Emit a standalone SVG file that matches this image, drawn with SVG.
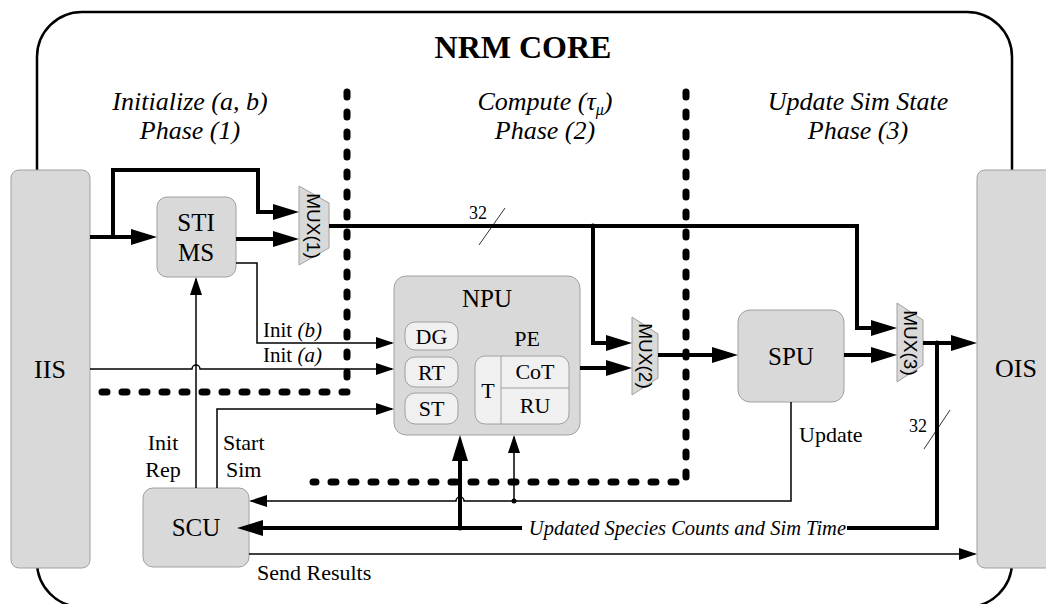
<svg xmlns="http://www.w3.org/2000/svg" width="1046" height="604" viewBox="0 0 1046 604">
<style>
.node{fill:#d9d9d9;stroke:#a0a0a0;stroke-width:1}
.inner{fill:#f0f0f0;stroke:#a0a0a0;stroke-width:1}
.t{font-family:"Liberation Serif","Times New Roman",serif;fill:#000}
.lbl{font-size:25px;text-anchor:middle}
.small{font-size:22px}
.it{font-style:italic}
.mux{fill:#d9d9d9;stroke:#a0a0a0;stroke-width:1}
.muxt{font-family:"Liberation Sans",Arial,sans-serif;font-size:19px;text-anchor:middle;dominant-baseline:central}
.thick{fill:none;stroke:#000;stroke-width:4}
.thin{fill:none;stroke:#000;stroke-width:1.5}
.dash{fill:none;stroke:#000;stroke-width:7;stroke-linecap:round;stroke-dasharray:5 15}
</style>
<defs>
<marker id="ah" markerUnits="userSpaceOnUse" markerWidth="26" markerHeight="16" refX="20" refY="8" orient="auto">
<path d="M0,0 L26,8 L0,16 z" fill="#000"/>
</marker>
<marker id="as" markerUnits="userSpaceOnUse" markerWidth="18" markerHeight="12" refX="16" refY="6" orient="auto">
<path d="M0,0 L18,6 L0,12 z" fill="#000"/>
</marker>
</defs>
<rect x="37" y="12" width="975" height="595" rx="45" fill="none" stroke="#000" stroke-width="2.5"/>
<text class="t" x="523" y="58" font-size="32" font-weight="bold" text-anchor="middle">NRM CORE</text>
<g id="phase-labels" class="t it" font-size="26" text-anchor="middle">
<text x="190" y="110">Initialize (a, b)</text>
<text x="190" y="139">Phase (1)</text>
<text x="545" y="110">Compute (τ<tspan font-size="16" dy="5">μ</tspan><tspan dy="-5">)</tspan></text>
<text x="545" y="139">Phase (2)</text>
<text x="858" y="110">Update Sim State</text>
<text x="858" y="139">Phase (3)</text>
</g>
<g id="phase-dividers">
<path class="dash" d="M347,92 V392 H95"/>
<path class="dash" d="M686,92 V482 H313"/>
</g>
<g id="IIS"><rect class="node" x="11" y="170" width="79" height="398" rx="8"/><text class="t" x="50" y="378" font-size="26" text-anchor="middle">IIS</text></g>
<g id="OIS"><rect class="node" x="977" y="170" width="79" height="398" rx="8"/><text class="t" x="1016" y="377" font-size="26" text-anchor="middle">OIS</text></g>
<g id="STIMS"><rect class="node" x="157" y="197" width="79" height="80" rx="10"/><text class="t lbl" x="196" y="231">STI</text><text class="t lbl" x="196" y="261">MS</text></g>
<g id="SCU"><rect class="node" x="143" y="488" width="106" height="79" rx="10"/><text class="t lbl" x="196" y="536">SCU</text></g>
<g id="SPU"><rect class="node" x="738" y="310" width="106" height="92" rx="12"/><text class="t lbl" x="791" y="365">SPU</text></g>
<g id="NPU">
<rect class="node" x="394" y="276" width="186" height="159" rx="12"/>
<text class="t lbl" x="487" y="307">NPU</text>
<rect class="inner" x="405" y="322" width="53" height="28" rx="10"/><text class="t small" x="431.5" y="344" text-anchor="middle">DG</text>
<rect class="inner" x="405" y="357" width="53" height="30" rx="10"/><text class="t small" x="431.5" y="380" text-anchor="middle">RT</text>
<rect class="inner" x="405" y="393" width="53" height="31" rx="10"/><text class="t small" x="431.5" y="416" text-anchor="middle">ST</text>
<text class="t small" x="527" y="346" text-anchor="middle">PE</text>
<rect class="inner" x="475" y="356" width="94" height="68" rx="10"/>
<line x1="501" y1="356" x2="501" y2="424" stroke="#a0a0a0" stroke-width="1"/>
<line x1="501" y1="388" x2="569" y2="388" stroke="#a0a0a0" stroke-width="1"/>
<text class="t small" x="488" y="398" text-anchor="middle">T</text>
<text class="t small" x="535" y="379" text-anchor="middle">CoT</text>
<text class="t small" x="535" y="413" text-anchor="middle">RU</text>
</g>
<g id="MUX1"><polygon class="mux" points="299,186 329,203 329,248 299,265"/><text class="muxt" transform="translate(313,226) rotate(90)">MUX(1)</text></g>
<g id="MUX2"><polygon class="mux" points="632,317 658,334 658,378 632,395"/><text class="muxt" transform="translate(645,356) rotate(90)">MUX(2)</text></g>
<g id="MUX3"><polygon class="mux" points="897,303 923,320 923,365 897,382"/><text class="muxt" transform="translate(910,343) rotate(90)">MUX(3)</text></g>
<g id="connectors">
<path class="thick" d="M90,237 H151" marker-end="url(#ah)"/>
<path class="thick" d="M113,237 V170 H258 V212 H293" marker-end="url(#ah)"/>
<path class="thick" d="M236,239 H293" marker-end="url(#ah)"/>
<path class="thick" d="M329,226 H857 V328 H891" marker-end="url(#ah)"/>
<path class="thick" d="M593,226 V343 H626" marker-end="url(#ah)"/>
<path class="thick" d="M580,368 H626" marker-end="url(#ah)"/>
<path class="thick" d="M658,355 H732" marker-end="url(#ah)"/>
<path class="thick" d="M844,355 H891" marker-end="url(#ah)"/>
<path class="thick" d="M923,343 H971" marker-end="url(#ah)"/>
<path class="thick" d="M937,343 V528 H847"/>
<path class="thick" d="M522,528 H243" marker-end="url(#ah)"/>
<path class="thick" d="M460,528 V441" marker-end="url(#ah)"/>
<path class="thin" d="M236,263 H257 V343 H392" marker-end="url(#as)"/>
<path class="thin" d="M90,369 H192 A4,4 0 0 1 200,369 H392" marker-end="url(#as)"/>
<path class="thin" d="M196,488 V279" marker-end="url(#as)"/>
<path class="thin" d="M217,488 V409 H392" marker-end="url(#as)"/>
<path class="thin" d="M791,402 V501 H464 A4,4 0 0 0 456,501 H251" marker-end="url(#as)"/>
<path class="thin" d="M514,501 V437" marker-end="url(#as)"/>
<path class="thin" d="M249,554 H975" marker-end="url(#as)"/>
<circle cx="514" cy="501" r="2.5"/>
<circle cx="460" cy="528" r="2.5"/>
<circle cx="593" cy="226" r="2.5"/>
<circle cx="937" cy="343" r="2.5"/>
<line x1="479" y1="245" x2="505" y2="208" stroke="#000" stroke-width="0.8"/>
<line x1="924" y1="449" x2="950" y2="410" stroke="#000" stroke-width="0.8"/>
</g>
<g id="labels" class="t">
<text x="469" y="219" font-size="18">32</text>
<text x="909" y="432" font-size="18">32</text>
<text x="263" y="337" font-size="21">Init <tspan class="it">(b)</tspan></text>
<text x="263" y="362" font-size="21">Init <tspan class="it">(a)</tspan></text>
<text x="163" y="450" font-size="22" text-anchor="middle">Init</text>
<text x="163" y="477" font-size="22" text-anchor="middle">Rep</text>
<text x="223" y="450" font-size="22">Start</text>
<text x="226" y="477" font-size="22">Sim</text>
<text x="799" y="442" font-size="22">Update</text>
<text x="257" y="580" font-size="22">Send Results</text>
<text x="846" y="535" font-size="20.5" class="it" text-anchor="end">Updated Species Counts and Sim Time</text>
</g>
</svg>
